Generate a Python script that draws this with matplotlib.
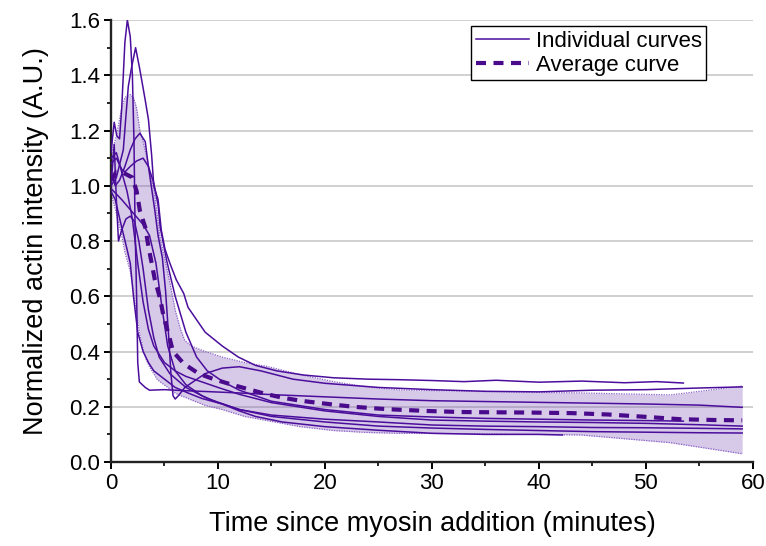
import matplotlib
matplotlib.use("Agg")
import matplotlib.pyplot as plt
from matplotlib.ticker import MultipleLocator, FormatStrFormatter

plt.rcParams['font.family'] = ['Liberation Sans', 'DejaVu Sans']

# ---- individual actin-intensity traces (time in minutes, normalized intensity) ----
c1_t = [0, 0.3, 0.55, 0.8, 1.0, 1.3, 1.53, 1.8, 2.0, 2.15, 2.25, 2.4, 2.5, 2.65, 3.2, 3.6,
        5, 7, 9, 12, 15, 20, 25, 30, 35, 40, 45, 50, 55, 59]
c1_y = [1.12, 1.23, 1.18, 1.17, 1.28, 1.52, 1.60, 1.54, 1.40, 1.16, 0.85, 0.59, 0.36, 0.29, 0.27, 0.26,
        0.262, 0.258, 0.255, 0.25, 0.244, 0.236, 0.228, 0.222, 0.219, 0.216, 0.213, 0.21, 0.206, 0.198]

c2_t = [0, 0.5, 1.15, 1.37, 1.62, 1.93, 2.3, 2.7, 3.2, 3.5, 3.8, 4.0, 4.4, 4.7, 5.05, 5.5, 6.1,
        6.8, 7.2, 8.8, 10.4, 11.9, 13.5, 15.5, 18, 20.8, 24, 27, 30, 33, 36, 40, 44, 48, 51, 53.5]
c2_y = [1.0, 1.03, 1.13, 1.24, 1.36, 1.43, 1.50, 1.42, 1.31, 1.24, 1.11, 1.0, 0.95, 0.84, 0.77, 0.72, 0.66,
        0.61, 0.56, 0.47, 0.42, 0.38, 0.35, 0.33, 0.315, 0.305, 0.30, 0.298, 0.295, 0.291, 0.296, 0.289,
        0.293, 0.287, 0.291, 0.286]

c3_t = [0, 0.4, 0.8, 1.3, 1.8, 2.25, 2.7, 3.2, 3.5, 3.8, 4.1, 4.4, 4.8, 5.1, 5.4, 5.6, 5.8, 6.0,
        6.3, 6.9, 8.8, 10.4, 12, 14, 17, 20, 25, 30, 35, 40, 45, 50, 55, 59]
c3_y = [1.05, 1.0, 1.02, 1.07, 1.13, 1.17, 1.19, 1.16, 1.07, 0.99, 0.91, 0.82, 0.74, 0.62, 0.45, 0.32,
        0.24, 0.228, 0.24, 0.27, 0.32, 0.34, 0.345, 0.33, 0.30, 0.285, 0.27, 0.262, 0.256, 0.254,
        0.26, 0.262, 0.268, 0.272]

c4_t = [0, 0.5, 1.0, 1.3, 1.8, 2.4, 3.0, 3.5, 4.0, 4.4, 4.6, 5.2, 6, 7, 8, 9, 10.5, 12, 15, 20, 25,
        30, 35, 40, 45, 50, 53.5]
c4_y = [1.08, 1.1, 1.06, 1.05, 1.07, 1.09, 1.10, 1.07, 1.01, 0.93, 0.85, 0.73, 0.6, 0.47, 0.38, 0.33,
        0.29, 0.26, 0.22, 0.19, 0.17, 0.163, 0.158, 0.155, 0.152, 0.15, 0.148]

c5_t = [0, 0.3, 0.5, 0.7, 1.0, 1.4, 1.8, 2.2, 2.6, 3.0, 3.5, 4.0, 4.5, 5.5, 7, 9, 12, 15, 20, 25,
        30, 35, 40, 45, 50, 55, 59]
c5_y = [1.0, 1.15, 0.95, 0.80, 0.84, 0.88, 0.89, 0.87, 0.80, 0.70, 0.55, 0.45, 0.38, 0.32, 0.27, 0.23,
        0.19, 0.17, 0.155, 0.145, 0.134, 0.13, 0.128, 0.125, 0.124, 0.122, 0.12]

c6_t = [0, 0.4, 1.0, 1.5, 1.8, 2.1, 2.5, 3.0, 3.5, 4, 5, 6, 7.2, 8.5, 10.4, 12, 13.5, 16, 20, 25,
        30, 35, 40, 42.2]
c6_y = [0.98, 0.95, 0.85, 0.77, 0.72, 0.60, 0.47, 0.40, 0.36, 0.33, 0.30, 0.27, 0.25, 0.23, 0.21,
        0.185, 0.165, 0.145, 0.128, 0.115, 0.104, 0.1, 0.1, 0.098]

c7_t = [0, 1, 2.1, 3.0, 3.6, 4.2, 4.8, 5.3, 6, 7, 8.5, 10, 12, 15, 20, 25, 30, 35, 40, 45, 50, 55, 59]
c7_y = [0.99, 0.95, 0.90, 0.86, 0.82, 0.72, 0.55, 0.42, 0.33, 0.28, 0.24, 0.215, 0.19, 0.165, 0.145,
        0.13, 0.123, 0.118, 0.114, 0.11, 0.108, 0.106, 0.105]

c8_t = [0, 0.5, 1.0, 1.5, 2.0, 2.5, 3.0, 3.5, 4.0, 5.0, 6, 7, 8.5, 10, 12, 15, 20, 25, 30, 35, 40,
        45, 50, 55, 59]
c8_y = [1.10, 1.12, 1.05, 0.98, 0.88, 0.72, 0.58, 0.48, 0.42, 0.36, 0.33, 0.31, 0.29, 0.27, 0.245,
        0.215, 0.185, 0.165, 0.152, 0.148, 0.145, 0.143, 0.14, 0.135, 0.13]

curves = [(c1_t, c1_y), (c2_t, c2_y), (c3_t, c3_y), (c4_t, c4_y),
          (c5_t, c5_y), (c6_t, c6_y), (c7_t, c7_y), (c8_t, c8_y)]

# ---- average trace ----
avg_t = [0, 0.5, 1.0, 1.5, 2.0, 2.4, 2.7, 3.2, 3.5, 3.8, 4.1, 4.6, 4.9, 5.4, 5.8, 6.8, 8.2, 9.6,
         11.3, 12.8, 14.4, 16, 17.7, 19.2, 21, 22.7, 24.4, 26, 29.4, 32.6, 35.9, 39.3, 43.1, 46.5,
         49.8, 53.2, 56.5, 59]
avg_y = [1.02, 1.05, 1.05, 1.04, 1.03, 0.98, 0.91, 0.85, 0.78, 0.72, 0.66, 0.59, 0.53, 0.46, 0.40,
         0.356, 0.32, 0.30, 0.28, 0.264, 0.247, 0.233, 0.222, 0.215, 0.207, 0.20, 0.195, 0.191, 0.185,
         0.181, 0.18, 0.179, 0.177, 0.172, 0.164, 0.155, 0.152, 0.151]

# ---- spread band around the average ----
band_t = [0, 0.5, 1.0, 1.3, 1.8, 2.1, 2.4, 2.7, 3.0, 3.3, 3.6, 4.0, 4.3, 4.6, 5.5, 6.0, 6.5, 6.9,
          7.5, 8.8, 10.4, 12.5, 14.6, 17.7, 20.8, 23.9, 27, 35, 43.9, 52.3, 59]
band_hi = [1.11, 1.18, 1.28, 1.32, 1.33, 1.32, 1.28, 1.20, 1.16, 1.11, 1.05, 0.99, 0.90, 0.81, 0.65,
           0.55, 0.48, 0.44, 0.42, 0.40, 0.38, 0.36, 0.346, 0.316, 0.291, 0.272, 0.261, 0.255, 0.25,
           0.243, 0.275]
band_lo = [0.975, 0.90, 0.82, 0.76, 0.69, 0.62, 0.53, 0.46, 0.41, 0.37, 0.345, 0.32, 0.30, 0.29,
           0.265, 0.25, 0.24, 0.235, 0.225, 0.205, 0.19, 0.165, 0.15, 0.128, 0.114, 0.107, 0.104,
           0.102, 0.098, 0.07, 0.03]

line_color = '#4b0e9c'
avg_color = '#4a0a8c'

fig = plt.figure(figsize=(7.66, 5.46), dpi=100)
ax = fig.add_axes([0.1449, 0.1538, 0.838, 0.8095])

ax.fill_between(band_t, band_lo, band_hi, color='#7b4fb5', alpha=0.3, lw=0, zorder=1)
ax.plot(band_t, band_hi, color='#8a62c8', lw=0.9, ls=(0, (1, 1)), zorder=2)
ax.plot(band_t, band_lo, color='#8a62c8', lw=0.9, ls=(0, (1, 1)), zorder=2)

for i, (t, y) in enumerate(curves):
    ax.plot(t, y, color=line_color, lw=1.1, zorder=3,
            label='Individual curves' if i == 0 else None)

ax.plot(avg_t, avg_y, color=avg_color, lw=3.0, ls=(0, (2.4, 1.8)), zorder=4,
        label='Average curve')

ax.set_xlim(0, 60)
ax.set_ylim(0, 1.6)
ax.xaxis.set_major_locator(MultipleLocator(10))
ax.xaxis.set_minor_locator(MultipleLocator(5))
ax.yaxis.set_major_locator(MultipleLocator(0.2))
ax.yaxis.set_minor_locator(MultipleLocator(0.1))
ax.yaxis.set_major_formatter(FormatStrFormatter('%.1f'))

ax.grid(axis='y', which='major', color='#c8c8c8', lw=1.2, zorder=0)
ax.set_axisbelow(True)

for side in ('top', 'right'):
    ax.spines[side].set_visible(False)
for side in ('left', 'bottom'):
    ax.spines[side].set_linewidth(1.7)
    ax.spines[side].set_color('#222222')

ax.tick_params(which='major', direction='out', length=5, width=1.4, labelsize=16, pad=3)
ax.tick_params(which='minor', direction='out', length=3, width=1.2)

ax.set_xlabel('Time since myosin addition (minutes)', fontsize=19.5, labelpad=12)
ax.set_ylabel('Normalized actin intensity (A.U.)', fontsize=19.5, labelpad=14)

leg = ax.legend(loc='upper right', bbox_to_anchor=(0.927, 0.986), fontsize=16,
                frameon=True, fancybox=False, framealpha=1, edgecolor='black',
                handlelength=2.4, handletextpad=0.3, borderpad=0.2, labelspacing=0.15,
                borderaxespad=0)
leg.get_frame().set_linewidth(1.0)

fig.savefig('out.png', dpi=100)
